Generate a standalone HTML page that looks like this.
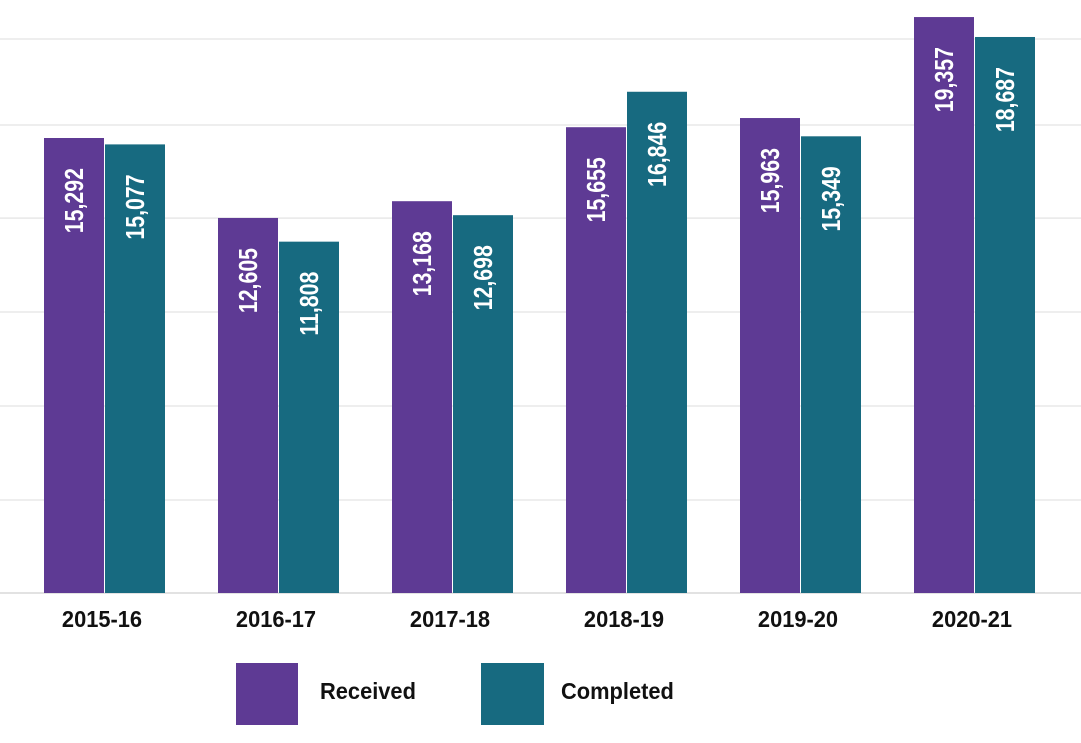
<!DOCTYPE html>
<html><head><meta charset="utf-8"><style>
body{margin:0;background:#fff;width:1081px;height:738px;overflow:hidden}
text{font-family:"Liberation Sans",sans-serif}
</style></head><body>
<svg id="chart" width="1081" height="738" xmlns="http://www.w3.org/2000/svg"></svg>
<script>
const categories=["2015-16","2016-17","2017-18","2018-19","2019-20","2020-21"];
const received=[15292,12605,13168,15655,15963,19357];
const completed=[15077,11808,12698,16846,15349,18687];
const gridTicks=[0,3125,6285,9444,12600,15730,18620];
const svg=document.getElementById('chart');
const NS="http://www.w3.org/2000/svg";
const base=593, k=455/15292;
function y(v){return base-v*k;}
function x(i){return 44+i*174;}
function mk(tag,attrs,txt){const e=document.createElementNS(NS,tag);for(const a in attrs)e.setAttribute(a,attrs[a]);if(txt!==undefined)e.textContent=txt;svg.appendChild(e);return e;}
gridTicks.forEach(t=>{
 const l=mk('line',{x1:0,x2:1081,y1:y(t),y2:y(t),stroke:t===0?'#d8d8d8':'#e8e8e8','stroke-width':1.5});
 
 
});
function bar(i,v,off,color,nm){
 const r=mk('rect',{x:x(i)+off,y:y(v),width:60,height:base-y(v),fill:color});
 
 
 const cx=x(i)+off+30, ty=y(v)+30;
 const t=mk('text',{transform:`translate(${cx+9},${ty}) rotate(-90) scale(0.82,1)`,'text-anchor':'end',fill:'#fff','font-size':26,'font-weight':'bold'},v.toLocaleString('en-US'));
 
 
}
categories.forEach((c,i)=>{
 bar(i,received[i],0,'#5e3a94','received');
 bar(i,completed[i],61,'#176a80','completed');
 const cx=x(i)+58;
 const t=mk('text',{'text-anchor':'middle','font-size':23,'font-weight':'bold',fill:'#111',transform:`translate(${cx},627) scale(0.95,1)`},c);
 
 
});
let r=mk('rect',{x:236,y:663,width:62,height:62,fill:'#5e3a94'});


let t=mk('text',{'font-size':23,'font-weight':'bold',fill:'#111',transform:'translate(320,699) scale(0.95,1)'},'Received');


r=mk('rect',{x:481,y:663,width:63,height:62,fill:'#176a80'});


t=mk('text',{'font-size':23,'font-weight':'bold',fill:'#111',transform:'translate(561,699) scale(0.95,1)'},'Completed');


</script>
</body></html>
